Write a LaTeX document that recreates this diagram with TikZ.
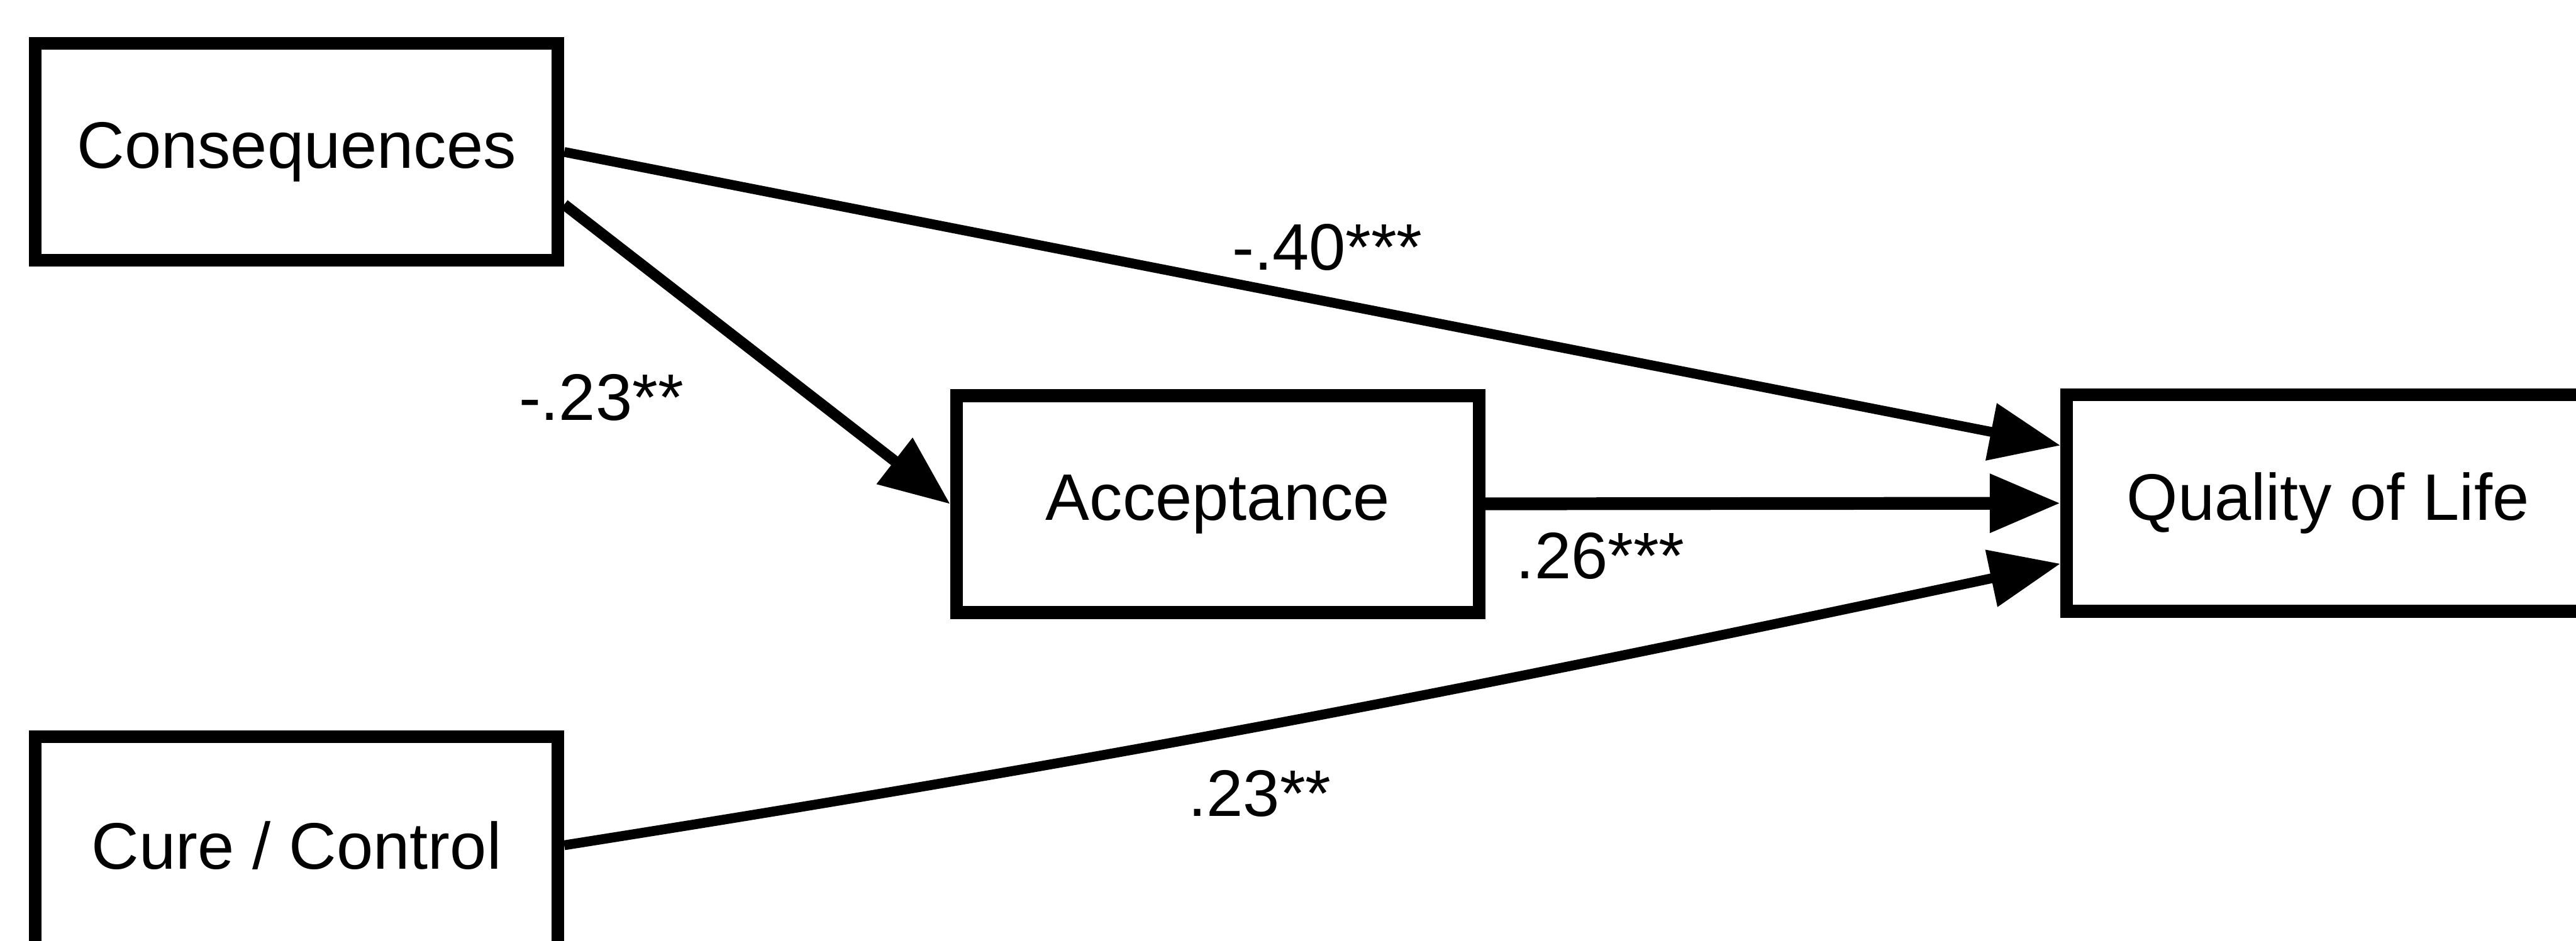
\documentclass[tikz,border=0pt]{standalone}
\usepackage{fontspec}
\setmainfont{Liberation Sans}
\usetikzlibrary{matrix,arrows.meta}

\tikzset{
  factor/.style={draw, line width=2.2pt, minimum width=3.18cm, minimum height=1.32cm},
}

\begin{document}
\begin{tikzpicture}[font=\fontsize{11.4}{13.7}\selectfont, >={Triangle[length=4.3mm,width=3.4mm]}]
			\path[use as bounding box, fill=white] (0,0) rectangle (15.68,5.73);
			\matrix (model) [matrix of nodes, nodes={factor}, row sep=0.74cm, column sep=2.35cm,
				inner sep=0pt, anchor=north west] at (0.17,5.51)
			{
				Consequences   &            &[1.15cm]                 \\
				               & Acceptance &[1.15cm] Quality of Life \\[-0.06cm]
				Cure / Control &            &[1.15cm]                 \\
			};
			\path[->, line width=1.7pt]
			(model-1-1.east) edge node[pos=.51, yshift=.33cm] {-.40***} ([yshift=.35cm]model-2-3.west)
			([yshift=-.32cm]model-1-1.east) edge[line width=1.9pt] node[pos=.3, xshift=-.48cm, yshift=-.63cm] {-.23**} (model-2-2.west)
			(model-2-2) edge[line width=2.2pt] node[pos=.2, yshift=-.32cm] {.26***} (model-2-3)
			(model-3-1.east) edge[out=9, in=192] node[pos=.46, yshift=-.41cm] {.23**} ([yshift=-.37cm]model-2-3.west);
		\end{tikzpicture}
\end{document}
